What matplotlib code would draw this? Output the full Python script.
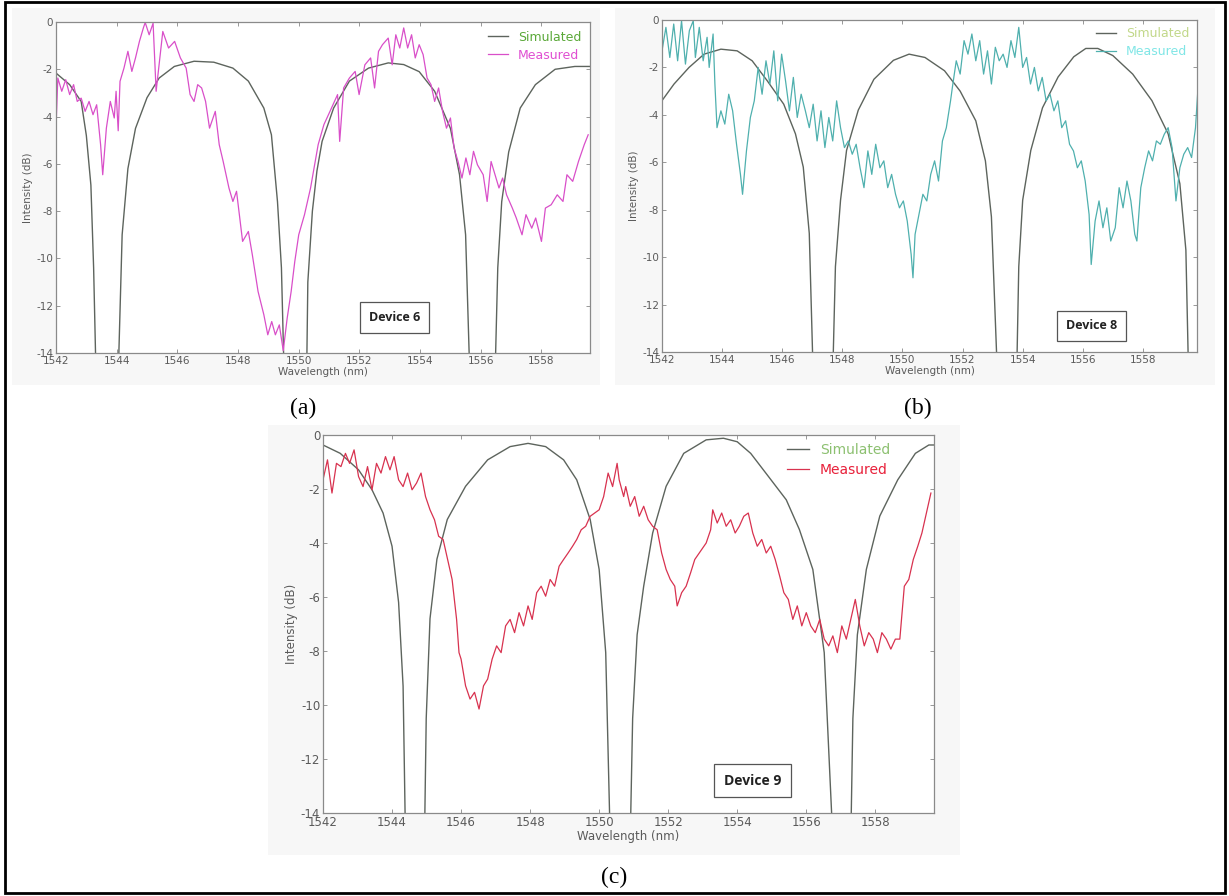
import matplotlib.pyplot as plt
from matplotlib.patches import Rectangle

# ---- panel (a) : Device 6 ----
a_sim_x = [1542.00, 1542.45, 1542.83, 1543.00, 1543.15, 1543.24, 1543.32,
           1544.05, 1544.18, 1544.37, 1544.62, 1545.00, 1545.40, 1545.90, 1546.55, 1547.20, 1547.83,
           1548.34, 1548.85, 1549.10, 1549.30, 1549.43, 1549.52,
           1550.26, 1550.30, 1550.45, 1550.60, 1550.77, 1551.15, 1551.67, 1552.30, 1552.95, 1553.46,
           1553.97, 1554.48, 1555.00, 1555.30, 1555.50, 1555.64,
           1556.47, 1556.56, 1556.69, 1556.92, 1557.30, 1557.80, 1558.45, 1559.10, 1559.60]
a_sim_y = [-2.16, -2.65, -3.36, -4.8, -6.9, -10.4, -15,
           -15, -9.0, -6.2, -4.5, -3.2, -2.37, -1.88, -1.66, -1.70, -1.95,
           -2.50, -3.64, -4.77, -7.6, -10.4, -15,
           -15, -11.0, -8.0, -6.3, -5.05, -3.64, -2.5, -1.95, -1.73, -1.80,
           -2.10, -2.93, -4.5, -6.46, -9.0, -15,
           -15, -10.4, -7.6, -5.5, -3.64, -2.65, -2.0, -1.88, -1.88]
a_meas_x = [1542.00, 1542.06, 1542.19, 1542.32, 1542.45, 1542.58, 1542.70, 1542.83, 1542.96, 1543.09,
            1543.22, 1543.34, 1543.47, 1543.54, 1543.66, 1543.79, 1543.92, 1543.98, 1544.05, 1544.11,
            1544.24, 1544.37, 1544.50, 1544.62, 1544.75, 1544.88, 1544.94, 1545.07, 1545.20, 1545.30,
            1545.52, 1545.71, 1545.91, 1546.10, 1546.29, 1546.42, 1546.55, 1546.67, 1546.80, 1546.93,
            1547.06, 1547.25, 1547.38, 1547.51, 1547.70, 1547.83, 1547.95, 1548.15, 1548.34, 1548.47,
            1548.66, 1548.85, 1548.98, 1549.11, 1549.23, 1549.36, 1549.49, 1549.62, 1549.75, 1549.87,
            1550.00, 1550.19, 1550.39, 1550.64, 1550.83, 1551.03, 1551.28, 1551.35, 1551.48, 1551.67,
            1551.86, 1551.99, 1552.18, 1552.37, 1552.50, 1552.63, 1552.76, 1552.95, 1553.08, 1553.20,
            1553.33, 1553.46, 1553.59, 1553.72, 1553.84, 1553.97, 1554.10, 1554.23, 1554.36, 1554.48,
            1554.61, 1554.74, 1554.87, 1555.00, 1555.12, 1555.25, 1555.38, 1555.51, 1555.64, 1555.76,
            1555.89, 1556.08, 1556.21, 1556.34, 1556.47, 1556.60, 1556.72, 1556.85, 1557.04, 1557.17,
            1557.36, 1557.49, 1557.68, 1557.81, 1558.00, 1558.13, 1558.32, 1558.52, 1558.71, 1558.84,
            1559.03, 1559.22, 1559.41, 1559.54]
a_meas_y = [-4.49, -2.37, -2.93, -2.44, -3.07, -2.65, -3.36, -3.22, -3.78, -3.36,
            -3.92, -3.50, -5.19, -6.46, -4.49, -3.36, -4.06, -2.93, -4.60, -2.51,
            -1.95, -1.24, -2.09, -1.52, -0.82, -0.25, -0.02, -0.54, -0.05, -2.93,
            -0.40, -1.10, -0.82, -1.52, -1.95, -3.07, -3.36, -2.65, -2.79, -3.36,
            -4.49, -3.78, -5.19, -5.90, -7.02, -7.59, -7.16, -9.28, -8.86, -9.84,
            -11.40, -12.38, -13.23, -12.67, -13.23, -12.81, -13.90, -12.52, -11.40, -10.13,
            -9.00, -8.15, -7.02, -5.19, -4.34, -3.78, -3.07, -5.05, -2.79, -2.37,
            -2.09, -3.07, -1.81, -1.52, -2.79, -1.24, -0.96, -0.68, -1.81, -0.54,
            -1.10, -0.25, -1.10, -0.54, -1.52, -0.96, -1.38, -2.37, -2.65, -3.36,
            -2.79, -3.78, -4.49, -4.06, -5.33, -5.90, -6.60, -5.75, -6.46, -5.47,
            -6.04, -6.46, -7.59, -5.90, -6.46, -7.02, -6.60, -7.31, -7.87, -8.29,
            -9.00, -8.15, -8.72, -8.29, -9.28, -7.87, -7.73, -7.31, -7.59, -6.46,
            -6.74, -5.90, -5.19, -4.77]

# ---- panel (b) : Device 8 ----
b_sim_x = [1542.00, 1542.40, 1542.90, 1543.40, 1543.96, 1544.50, 1545.00, 1545.50, 1546.05, 1546.44,
           1546.70, 1546.90, 1547.03,
           1547.68, 1547.77, 1547.94, 1548.14, 1548.53, 1549.05, 1549.70, 1550.22, 1550.75, 1551.40,
           1551.92, 1552.44, 1552.76, 1552.96, 1553.16,
           1553.80, 1553.87, 1554.00, 1554.27, 1554.66, 1555.18, 1555.70, 1556.10, 1556.50, 1557.00,
           1557.66, 1558.30, 1558.84, 1559.23, 1559.43, 1559.52]
b_sim_y = [-3.4, -2.7, -2.0, -1.44, -1.23, -1.30, -1.72, -2.56, -3.55, -4.8,
           -6.2, -9.0, -15,
           -15, -10.4, -7.6, -5.5, -3.8, -2.5, -1.7, -1.44, -1.58, -2.14,
           -3.0, -4.25, -5.94, -8.3, -15,
           -15, -10.4, -7.6, -5.5, -3.7, -2.4, -1.55, -1.2, -1.2, -1.5,
           -2.28, -3.4, -4.8, -6.9, -9.7, -15]
b_meas_x = [1542.00, 1542.13, 1542.26, 1542.39, 1542.52, 1542.65, 1542.78, 1542.91, 1543.04, 1543.11,
            1543.24, 1543.37, 1543.50, 1543.57, 1543.70, 1543.76, 1543.83, 1543.96, 1544.09, 1544.22,
            1544.35, 1544.48, 1544.61, 1544.68, 1544.81, 1544.94, 1545.07, 1545.20, 1545.33, 1545.46,
            1545.59, 1545.72, 1545.85, 1545.98, 1546.11, 1546.24, 1546.37, 1546.50, 1546.63, 1546.77,
            1546.90, 1547.03, 1547.16, 1547.29, 1547.42, 1547.55, 1547.68, 1547.81, 1547.94, 1548.07,
            1548.20, 1548.33, 1548.46, 1548.59, 1548.72, 1548.85, 1548.98, 1549.11, 1549.25, 1549.38,
            1549.51, 1549.64, 1549.77, 1549.90, 1550.03, 1550.16, 1550.29, 1550.35, 1550.42, 1550.55,
            1550.68, 1550.81, 1550.94, 1551.07, 1551.20, 1551.33, 1551.46, 1551.60, 1551.66, 1551.79,
            1551.92, 1552.05, 1552.18, 1552.31, 1552.44, 1552.57, 1552.70, 1552.83, 1552.96, 1553.09,
            1553.22, 1553.35, 1553.48, 1553.61, 1553.74, 1553.87, 1554.00, 1554.13, 1554.26, 1554.39,
            1554.52, 1554.65, 1554.78, 1554.91, 1555.04, 1555.17, 1555.30, 1555.43, 1555.56, 1555.69,
            1555.82, 1555.95, 1556.08, 1556.21, 1556.28, 1556.41, 1556.54, 1556.67, 1556.80, 1556.93,
            1557.08, 1557.21, 1557.34, 1557.47, 1557.60, 1557.73, 1557.80, 1557.93, 1558.06, 1558.19,
            1558.32, 1558.45, 1558.58, 1558.71, 1558.84, 1558.97, 1559.10, 1559.23, 1559.36, 1559.49,
            1559.62, 1559.75, 1559.82]
b_meas_y = [-1.30, -0.31, -1.58, -0.17, -1.72, -0.03, -1.86, -0.45, -0.03, -1.58,
            -0.31, -1.72, -0.73, -2.00, -0.59, -2.70, -4.54, -3.83, -4.39, -3.13,
            -3.83, -5.24, -6.51, -7.35, -5.52, -4.11, -3.41, -2.00, -3.13, -1.72,
            -2.70, -1.30, -3.41, -1.44, -2.56, -3.83, -2.42, -4.11, -3.13, -3.83,
            -4.54, -3.55, -5.10, -3.83, -5.38, -4.11, -5.10, -3.41, -4.54, -5.38,
            -5.10, -5.66, -5.24, -6.23, -7.07, -5.52, -6.51, -5.24, -6.23, -5.94,
            -7.07, -6.51, -7.35, -7.92, -7.63, -8.48, -9.89, -10.87, -9.04, -8.20,
            -7.35, -7.63, -6.51, -5.94, -6.79, -5.10, -4.54, -3.41, -2.85, -1.72,
            -2.28, -0.87, -1.44, -0.59, -1.72, -0.87, -2.28, -1.30, -2.70, -1.15,
            -1.72, -1.44, -2.00, -0.87, -1.58, -0.31, -2.00, -1.58, -2.70, -2.00,
            -2.99, -2.42, -3.41, -3.13, -3.83, -3.41, -4.54, -4.25, -5.24, -5.52,
            -6.23, -5.94, -6.79, -8.20, -10.31, -8.48, -7.63, -8.76, -7.92, -9.32,
            -8.76, -7.07, -7.92, -6.79, -7.63, -9.04, -9.32, -7.07, -6.23, -5.52,
            -5.94, -5.10, -5.24, -4.82, -4.54, -5.38, -7.63, -6.23, -5.66, -5.38,
            -5.80, -4.54, -3.13]

# ---- panel (c) : Device 9 ----
c_sim_x = [1542.00, 1542.50, 1543.03, 1543.42, 1543.74, 1544.00, 1544.19, 1544.32, 1544.39,
           1544.94, 1544.99, 1545.10, 1545.30, 1545.60, 1546.13, 1546.77, 1547.42, 1547.94, 1548.45,
           1548.97, 1549.35, 1549.74, 1550.00, 1550.19, 1550.32,
           1550.90, 1550.97, 1551.10, 1551.29, 1551.55, 1551.94, 1552.45, 1553.10, 1553.60, 1554.00,
           1554.39, 1554.90, 1555.42, 1555.80, 1556.19, 1556.52, 1556.77,
           1557.29, 1557.35, 1557.48, 1557.74, 1558.13, 1558.65, 1559.16, 1559.55, 1559.68]
c_sim_y = [-0.37, -0.68, -1.29, -2.03, -2.89, -4.12, -6.2, -9.3, -15,
           -15, -10.5, -6.8, -4.6, -3.13, -1.9, -0.92, -0.43, -0.31, -0.43,
           -0.92, -1.66, -3.13, -4.98, -8.06, -15,
           -15, -10.5, -7.4, -5.6, -3.63, -1.9, -0.68, -0.18, -0.12, -0.25,
           -0.68, -1.53, -2.4, -3.5, -4.98, -8.06, -15,
           -15, -10.5, -7.4, -4.98, -3.0, -1.66, -0.68, -0.37, -0.37]
c_meas_x = [1542.00, 1542.13, 1542.26, 1542.39, 1542.52, 1542.65, 1542.77, 1542.90, 1543.03, 1543.16,
            1543.29, 1543.42, 1543.55, 1543.68, 1543.81, 1543.94, 1544.06, 1544.19, 1544.32, 1544.45,
            1544.58, 1544.71, 1544.84, 1544.97, 1545.10, 1545.23, 1545.35, 1545.48, 1545.61, 1545.74,
            1545.87, 1545.94, 1546.00, 1546.13, 1546.26, 1546.39, 1546.52, 1546.65, 1546.77, 1546.90,
            1547.03, 1547.16, 1547.29, 1547.42, 1547.55, 1547.68, 1547.81, 1547.94, 1548.06, 1548.19,
            1548.32, 1548.45, 1548.58, 1548.71, 1548.84, 1548.97, 1549.10, 1549.23, 1549.35, 1549.48,
            1549.61, 1549.74, 1549.87, 1550.00, 1550.13, 1550.26, 1550.39, 1550.52, 1550.58, 1550.71,
            1550.77, 1550.90, 1551.03, 1551.16, 1551.29, 1551.42, 1551.55, 1551.68, 1551.81, 1551.94,
            1552.06, 1552.19, 1552.26, 1552.39, 1552.52, 1552.65, 1552.77, 1552.90, 1553.10, 1553.23,
            1553.29, 1553.42, 1553.55, 1553.68, 1553.81, 1553.94, 1554.06, 1554.19, 1554.32, 1554.45,
            1554.58, 1554.71, 1554.84, 1554.97, 1555.10, 1555.23, 1555.35, 1555.48, 1555.61, 1555.74,
            1555.87, 1556.00, 1556.13, 1556.26, 1556.39, 1556.52, 1556.65, 1556.77, 1556.90, 1557.03,
            1557.16, 1557.29, 1557.42, 1557.55, 1557.68, 1557.81, 1557.94, 1558.06, 1558.19, 1558.32,
            1558.45, 1558.58, 1558.71, 1558.84, 1558.97, 1559.10, 1559.23, 1559.35, 1559.48, 1559.61]
c_meas_y = [-1.66, -0.92, -2.15, -1.05, -1.17, -0.68, -1.05, -0.55, -1.54, -1.91,
            -1.17, -2.03, -1.05, -1.41, -0.80, -1.29, -0.80, -1.66, -1.91, -1.41,
            -2.03, -1.78, -1.41, -2.28, -2.77, -3.14, -3.75, -3.87, -4.61, -5.35,
            -6.83, -8.06, -8.30, -9.29, -9.78, -9.53, -10.15, -9.29, -9.04, -8.30,
            -7.81, -8.06, -7.07, -6.83, -7.32, -6.58, -7.07, -6.33, -6.83, -5.84,
            -5.60, -5.97, -5.35, -5.60, -4.86, -4.61, -4.37, -4.12, -3.87, -3.51,
            -3.38, -3.01, -2.89, -2.77, -2.28, -1.41, -1.91, -1.05, -1.66, -2.28,
            -1.91, -2.64, -2.28, -3.01, -2.64, -3.14, -3.38, -3.51, -4.37, -4.98,
            -5.35, -5.60, -6.33, -5.84, -5.60, -5.10, -4.61, -4.37, -4.00, -3.51,
            -2.77, -3.26, -2.89, -3.38, -3.14, -3.63, -3.38, -3.01, -2.89, -3.63,
            -4.12, -3.87, -4.37, -4.12, -4.61, -5.23, -5.84, -6.09, -6.83, -6.33,
            -7.07, -6.58, -7.07, -7.32, -6.83, -7.56, -7.81, -7.44, -8.06, -7.07,
            -7.56, -6.83, -6.09, -7.07, -7.81, -7.32, -7.56, -8.06, -7.32, -7.56,
            -7.93, -7.56, -7.56, -5.60, -5.35, -4.61, -4.12, -3.63, -2.89, -2.15]

y_ticks = [0, -2, -4, -6, -8, -10, -12, -14]
x_ticks = [1542, 1544, 1546, 1548, 1550, 1552, 1554, 1556, 1558]

plt.rcParams['axes.unicode_minus'] = False
fig = plt.figure(figsize=(12.29, 8.96), dpi=100)
W, H = 1229.0, 896.0

# light grey screenshot backgrounds + outer frame (pixel boxes), kept behind the axes
for x0, y0, x1, y1 in [(12, 8, 600, 385), (615, 8, 1215, 385), (268, 425, 960, 855)]:
    fig.patches.append(Rectangle((x0 / W, 1 - y1 / H), (x1 - x0) / W, (y1 - y0) / H,
                                 transform=fig.transFigure, fc='#f7f7f7', ec='none', zorder=-5))
fig.patches.append(Rectangle((5 / W, 3 / H), 1220 / W, 891 / H, transform=fig.transFigure,
                             fill=False, ec='black', lw=2, zorder=5))


def panel(rect, sx, sy, mx, my, mcol, tcols, dev, dev_xy, xmax, fs, leg_kw):
    ax = fig.add_axes(rect)
    ax.set_zorder(1)
    ax.set_facecolor('white')
    ax.plot(sx, sy, color='#5d645d', lw=1.0, label='Simulated')
    ax.plot(mx, my, color=mcol, lw=0.9, label='Measured')
    ax.set_xlim(1542, xmax)
    ax.set_ylim(-14, 0)
    ax.set_xticks(x_ticks)
    ax.set_yticks(y_ticks)
    ax.tick_params(direction='in', top=True, right=True, length=3, width=0.6,
                   color='#888888', labelsize=fs - 1.5, labelcolor='#5a5a5a', pad=2)
    for s in ax.spines.values():
        s.set_color('#8a8a8a')
        s.set_linewidth(0.9)
    ax.set_xlabel('Wavelength (nm)', fontsize=fs - 1.5, color='#5a5a5a', labelpad=1)
    ax.set_ylabel('Intensity (dB)', fontsize=fs - 1.5, color='#5a5a5a', labelpad=2)
    ax.legend(frameon=False, fontsize=fs, labelcolor=tcols, handlelength=1.6,
              labelspacing=0.4, **leg_kw)
    ax.text(dev_xy[0], dev_xy[1], dev, fontsize=fs, fontweight='bold', family='Open Sans',
            ha='center', va='center', color='#222222',
            bbox=dict(boxstyle='square,pad=0.7', fc='white', ec='#555555', lw=0.9))
    return ax


panel([56 / W, 1 - 353 / H, 534 / W, 331 / H], a_sim_x, a_sim_y, a_meas_x, a_meas_y,
      '#d94fc9', ['#5aa838', '#e04fd2'], 'Device 6', (1553.15, -12.5), 1559.6, 9,
      dict(loc='upper right', borderaxespad=0.3))
panel([662 / W, 1 - 352 / H, 535 / W, 332 / H], b_sim_x, b_sim_y, b_meas_x, b_meas_y,
      '#4fb0ae', ['#c2d88a', '#80e6e6'], 'Device 8', (1556.3, -12.9), 1559.8, 9,
      dict(loc='upper right', borderaxespad=0.2))
panel([323 / W, 1 - 813 / H, 611 / W, 378 / H], c_sim_x, c_sim_y, c_meas_x, c_meas_y,
      '#d8324f', ['#8cc070', '#e8203a'], 'Device 9', (1554.45, -12.8), 1559.7, 10,
      dict(loc='upper left', bbox_to_anchor=(0.745, 1.0), borderaxespad=0.2))

for lab, px, py in [('(a)', 303, 408), ('(b)', 918, 408), ('(c)', 614, 877)]:
    fig.text(px / W, 1 - py / H, lab, fontsize=17, family='Liberation Serif',
             ha='center', va='center')

fig.savefig('out.png', dpi=100)
